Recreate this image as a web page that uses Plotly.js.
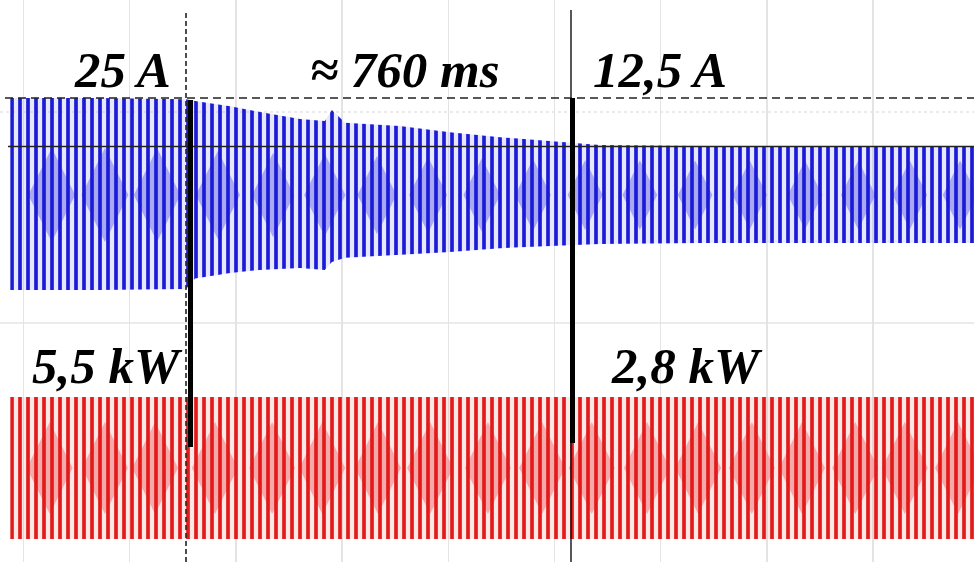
<!DOCTYPE html>
<html><head><meta charset="utf-8">
<script src="https://cdn.plot.ly/plotly-3.0.1.min.js"></script>
<style>html,body{margin:0;padding:0;background:#fff;overflow:hidden}#chart{width:974px;height:562px}</style>
</head><body><div id="chart"></div>
<script>
// ---- data ----
// time in ms (0 = first cursor), current in A (blue trace envelope)
const currentTime   = [-347, -170, 0, 18, 87, 146, 225, 274, 288, 314, 422, 521, 620, 718, 762, 817, 1015, 1556];
const currentTop    = [25.0, 25.0, 24.7, 24.2, 22.9, 21.4, 19.6, 19.1, 21.9, 18.6, 17.8, 16.2, 14.9, 13.9, 13.4, 12.9, 12.6, 12.6];
const currentBottom = [-24.5, -24.5, -24.2, -21.5, -20.1, -19.3, -18.8, -19.3, -17.3, -16.2, -15.5, -14.7, -13.7, -13.1, -12.9, -12.6, -12.4, -12.4];
// red trace envelope (power channel)
const powerTime   = [-347, 0, 760, 1556];
const powerTop    = [5.5, 5.5, 5.5, 5.5];
const powerBottom = [-5.5, -5.5, -5.5, -5.5];
// centres of the light beat "lenses" seen inside each trace (ms)
const currentLensTime = [-265, -160, -57, 63, 172, 274, 377, 478, 584, 685, 788, 896, 1005, 1113, 1222, 1327, 1429, 1528];
const powerLensTime   = [-269, -160, -61, 57, 170, 269, 379, 482, 596, 703, 801, 910, 1011, 1117, 1216, 1321, 1419, 1524];
// cursors and labels
const cursorTimes = [0, 760];
const cursorCurrents = [25, 12.5];
const labelTexts = ['25 A', '\u2248 760 ms', '12,5 A', '5,5 kW', '2,8 kW'];

// ---- scales (pixel layout of the scope screen) ----
const W = 974, H = 562;
const K = 760 / 385;           // ms per pixel
const X0 = 186;                // pixel of t = 0
const S = 3.88;                // px per A
const YC = 195;                // pixel of 0 A
const S2 = 71 / 5.5;           // px per kW
const YC2 = 468;               // pixel of 0 kW
const xr = [-X0 * K, (W - X0) * K];

function interp(xs, ys, x) {
  if (x <= xs[0]) return ys[0];
  for (let i = 1; i < xs.length; i++) {
    if (x <= xs[i]) { const f = (x - xs[i-1]) / (xs[i] - xs[i-1]); return ys[i-1] + f * (ys[i] - ys[i-1]); }
  }
  return ys[ys.length - 1];
}
function band(t, top, bot) {
  return { x: t.concat(t.slice().reverse()), y: top.concat(bot.slice().reverse()) };
}

const cb = band(currentTime, currentTop, currentBottom);
const pb = band(powerTime, powerTop, powerBottom);

const blueLensSize = currentLensTime.map(t => {
  const h = (interp(currentTime, currentTop, t) - interp(currentTime, currentBottom, t)) * S;
  return (0.26 * h + 44) / 1.4;
});
const redLensSize = powerLensTime.map(t => {
  const h = (interp(powerTime, powerTop, t) - interp(powerTime, powerBottom, t)) * S2;
  return (0.26 * h + 55) / 1.4;
});

const traces = [
  { x: currentLensTime, y: currentLensTime.map(() => 0), mode: 'markers', type: 'scatter', hoverinfo: 'skip',
    marker: { symbol: 'diamond-tall', size: blueLensSize, color: 'rgb(140,140,240)', line: { width: 0 } } },
  { x: cb.x, y: cb.y, type: 'scatter', mode: 'lines', fill: 'toself', hoverinfo: 'skip',
    line: { width: 0, color: 'rgba(0,0,0,0)' }, fillcolor: 'rgba(0,0,0,0)',
    fillpattern: { shape: '|', size: 8, solidity: 0.46, fgcolor: 'rgb(26,26,215)', bgcolor: 'rgba(150,150,240,0.22)' } },
  { x: powerLensTime, y: powerLensTime.map(() => 0), yaxis: 'y2', mode: 'markers', type: 'scatter', hoverinfo: 'skip',
    marker: { symbol: 'diamond-tall', size: redLensSize, color: 'rgb(246,140,140)', line: { width: 0 } } },
  { x: pb.x, y: pb.y, yaxis: 'y2', type: 'scatter', mode: 'lines', fill: 'toself', hoverinfo: 'skip',
    line: { width: 0, color: 'rgba(0,0,0,0)' }, fillcolor: 'rgba(0,0,0,0)',
    fillpattern: { shape: '|', size: 8, solidity: 0.46, fgcolor: 'rgb(226,26,26)', bgcolor: 'rgba(246,150,150,0.22)' } }
];

const grid = 'rgb(228,228,228)';
const shapes = [
  // horizontal graticule lines visible on the screen
  { type: 'line', layer: 'below', xref: 'paper', yref: 'paper', x0: 0, x1: 1, y0: 1 - 112 / H, y1: 1 - 112 / H, line: { color: grid, width: 1.5, dash: 'dot' } },
  { type: 'line', layer: 'below', xref: 'paper', yref: 'paper', x0: 0, x1: 1, y0: 1 - 323 / H, y1: 1 - 323 / H, line: { color: grid, width: 1.5 } },
  // vertical cursors
  { type: 'line', xref: 'x', yref: 'paper', x0: cursorTimes[0], x1: cursorTimes[0], y0: 0, y1: 1 - 10 / H,
    line: { color: '#222', width: 1.6, dash: '5px,3px' } },
  { type: 'line', xref: 'x', yref: 'paper', x0: cursorTimes[1], x1: cursorTimes[1], y0: 0, y1: 1 - 10 / H,
    line: { color: '#111', width: 1.4 } },
  // horizontal cursors
  { type: 'line', xref: 'paper', yref: 'y', x0: 5 / W, x1: 1, y0: cursorCurrents[0], y1: cursorCurrents[0],
    line: { color: '#222', width: 1.6, dash: '8px,5px' } },
  { type: 'line', xref: 'paper', yref: 'y', x0: 8 / W, x1: 1, y0: cursorCurrents[1], y1: cursorCurrents[1],
    line: { color: '#222', width: 1.5 } },
  // thick markers spanning the transient
  { type: 'line', xref: 'x', yref: 'paper', x0: cursorTimes[0] + 4.5 * K, x1: cursorTimes[0] + 4.5 * K,
    y0: 1 - 447 / H, y1: 1 - 100 / H, line: { color: '#000', width: 5 } },
  { type: 'line', xref: 'x', yref: 'paper', x0: cursorTimes[1] + 1.5 * K, x1: cursorTimes[1] + 1.5 * K,
    y0: 1 - 443 / H, y1: 1 - 98 / H, line: { color: '#000', width: 5 } }
];

const labelPos = [[122, 70], [405, 70], [660, 70], [107, 366], [687, 366]];
const annotations = labelTexts.map((t, i) => ({
  text: '<b><i>' + t + '</i></b>', xref: 'paper', yref: 'paper',
  x: labelPos[i][0] / W, y: 1 - labelPos[i][1] / H, xanchor: 'center', yanchor: 'middle',
  showarrow: false, font: { family: 'Liberation Serif, Times New Roman, serif', size: 51, color: '#000' }
}));

const layout = {
  width: W, height: H, margin: { l: 0, r: 0, t: 0, b: 0, pad: 0 },
  paper_bgcolor: '#fff', plot_bgcolor: '#fff', showlegend: false,
  xaxis: { range: xr, showgrid: true, gridcolor: grid, gridwidth: 1.5,
    tick0: (23.5 - X0) * K, dtick: 106.2 * K, zeroline: false, showticklabels: false, ticks: '', showline: false, fixedrange: true },
  yaxis: { range: [(YC - H) / S, YC / S], showgrid: false, zeroline: false, showticklabels: false, ticks: '', showline: false, fixedrange: true },
  yaxis2: { overlaying: 'y', range: [(YC2 - H) / S2, YC2 / S2], visible: false, showgrid: false, zeroline: false, fixedrange: true },
  shapes: shapes, annotations: annotations
};

Plotly.newPlot('chart', traces, layout, { staticPlot: true, displayModeBar: false });
</script></body></html>
